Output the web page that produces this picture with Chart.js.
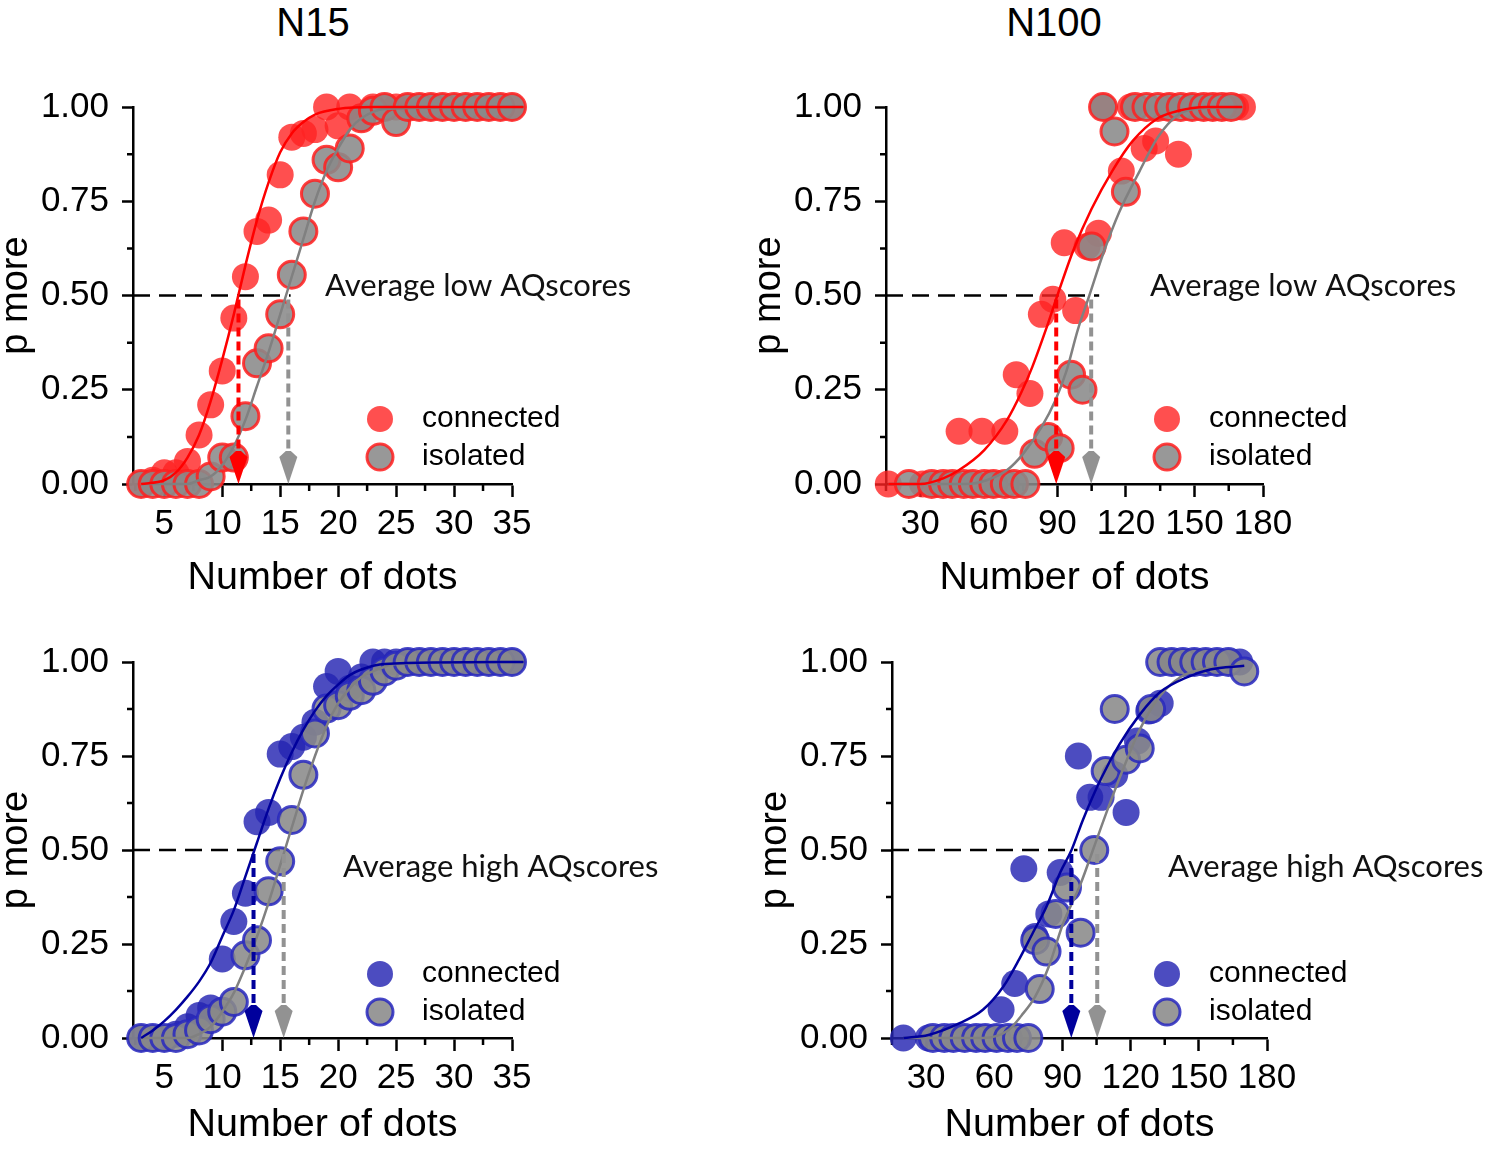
<!DOCTYPE html>
<html>
<head>
<meta charset="utf-8">
<title>p more by number of dots</title>
<script src="https://cdn.jsdelivr.net/npm/chart.js@4.4.1/dist/chart.umd.min.js"></script>
<style>
  html, body { margin: 0; padding: 0; background: #fff; overflow: hidden; }
  #figure { position: relative; width: 1487px; height: 1149px; }
  #figure canvas { position: absolute; }
  .panel-title {
    position: absolute;
    top: 0;
    line-height: 40px;
    font: 40px "Liberation Sans", Arial, sans-serif;
    color: #000;
    transform: translateX(-50%);
  }
</style>
</head>
<body>
<div id="figure">
  <div class="panel-title" style="left: 313px;">N15</div>
  <div class="panel-title" style="left: 1054px;">N100</div>
  <canvas id="low-n15" width="745" height="610" style="left: 0px; top: 0px;"></canvas>
  <canvas id="low-n100" width="734" height="610" style="left: 753px; top: 0px;"></canvas>
  <canvas id="high-n15" width="745" height="594" style="left: 0px; top: 555px;"></canvas>
  <canvas id="high-n100" width="728" height="594" style="left: 759px; top: 555px;"></canvas>
</div>
<script>
"use strict";

// ---- N15 stimulus levels (both N15 panels) ----
const n15Dots = [3, 4, 5, 6, 7, 8, 9, 10, 11, 12, 13, 14, 15, 16, 17, 18, 19, 20,
  21, 22, 23, 24, 25, 26, 27, 28, 29, 30, 31, 32, 33, 34, 35, 36];

// low AQ, N15
const lowN15Connected = [0, 0.01, 0.03, 0.03, 0.06, 0.13, 0.21, 0.30, 0.44, 0.55,
  0.67, 0.70, 0.82, 0.92, 0.93, 0.94, 1.00, 0.95, 1.00, 0.97,
  1, 1, 1, 1, 1, 1, 1, 1, 1, 1, 1, 1, 1, 1];
const lowN15Isolated = [0, 0, 0, 0, 0, 0, 0.02, 0.07, 0.07, 0.18, 0.32, 0.36, 0.45,
  0.555, 0.67, 0.77, 0.86, 0.84, 0.89, 0.97, 0.99, 1, 0.96,
  1, 1, 1, 1, 1, 1, 1, 1, 1, 1, 1];
const lowN15ConnectedFitX = [3, 5, 6, 7, 8, 9, 10, 11, 12, 13, 14, 15, 16, 17, 18, 20, 23, 36];
const lowN15ConnectedFitY = [0, 0.01, 0.03, 0.07, 0.13, 0.22, 0.33, 0.45, 0.58, 0.70,
  0.80, 0.88, 0.93, 0.96, 0.98, 0.995, 1, 1];
const lowN15IsolatedFitX = [3, 7, 8, 9, 10, 11, 12, 13, 14, 15, 16, 17, 18, 19, 20, 21, 22, 24, 36];
const lowN15IsolatedFitY = [0, 0, 0.01, 0.02, 0.05, 0.10, 0.17, 0.26, 0.35, 0.45, 0.55,
  0.65, 0.75, 0.83, 0.89, 0.94, 0.97, 0.995, 1];
const lowN15Thresholds = [11.4, 15.7];

// high AQ, N15
const highN15Connected = [0, 0, 0, 0.01, 0.03, 0.06, 0.08, 0.21, 0.31, 0.385, 0.575,
  0.60, 0.755, 0.775, 0.80, 0.84, 0.935, 0.975, 0.93, 0.96,
  1, 1, 1, 1, 1, 1, 1, 1, 1, 1, 1, 1, 1, 1];
const highN15Isolated = [0, 0, 0, 0, 0.01, 0.02, 0.05, 0.07, 0.096, 0.22, 0.26, 0.39,
  0.47, 0.58, 0.70, 0.81, 0.876, 0.885, 0.91, 0.925, 0.95, 0.975, 0.99,
  1, 1, 1, 1, 1, 1, 1, 1, 1, 1, 1];
const highN15ConnectedFitX = [3, 4, 5, 6, 7, 8, 9, 10, 11, 12, 13, 14, 15, 16, 17, 18,
  19, 20, 21, 22, 24, 36];
const highN15ConnectedFitY = [0, 0.02, 0.045, 0.075, 0.11, 0.15, 0.20, 0.27, 0.34, 0.43,
  0.52, 0.61, 0.69, 0.76, 0.82, 0.87, 0.91, 0.94, 0.965, 0.98, 0.995, 1];
const highN15IsolatedFitX = [3, 7, 8, 9, 10, 11, 12, 13, 14, 15, 16, 17, 18, 19, 20, 21,
  22, 23, 25, 36];
const highN15IsolatedFitY = [0, 0, 0.01, 0.03, 0.07, 0.12, 0.19, 0.27, 0.36, 0.46, 0.56,
  0.66, 0.75, 0.83, 0.89, 0.93, 0.96, 0.975, 0.995, 1];
const highN15Thresholds = [12.7, 15.3];

// low AQ, N100
const lowN100ConnectedX = [16, 31, 37, 42, 47, 52, 57, 62, 67, 72, 78, 83, 88, 93, 98,
  103, 108, 110, 118, 122, 128, 133, 138, 143, 148, 153, 158, 163, 168, 171];
const lowN100ConnectedY = [0, 0, 0, 0, 0.14, 0, 0.14, 0, 0.14, 0.29, 0.24, 0.45, 0.49,
  0.64, 0.46, 0.63, 0.665, 1, 0.83, 1, 0.89, 0.91, 1, 0.875, 1, 1, 1, 1, 1, 1];
const lowN100IsolatedX = [25, 35, 40, 44, 49, 53, 58, 62, 67, 71, 76, 80, 86, 91, 96,
  101, 105, 110, 115, 120, 124, 129, 134, 139, 144, 149, 154, 158, 162, 166];
const lowN100IsolatedY = [0, 0, 0, 0, 0, 0, 0, 0, 0, 0, 0, 0.08, 0.125, 0.095, 0.29,
  0.25, 0.63, 1, 0.935, 0.775, 1, 1, 1, 1, 1, 1, 1, 1, 1, 1];
const lowN100ConnectedFitX = [16, 30, 40, 47, 58, 68, 74, 79, 85, 90, 97, 105, 114, 123,
  134, 143, 155, 171];
const lowN100ConnectedFitY = [0, 0, 0.015, 0.037, 0.09, 0.17, 0.24, 0.31, 0.41, 0.50,
  0.62, 0.73, 0.83, 0.91, 0.97, 0.99, 1, 1];
const lowN100IsolatedFitX = [16, 50, 59, 68, 75, 83, 89, 94, 99, 104, 110, 117, 126, 134,
  143, 150, 171];
const lowN100IsolatedFitY = [0, 0, 0.01, 0.037, 0.08, 0.15, 0.22, 0.30, 0.41, 0.50, 0.61,
  0.72, 0.83, 0.92, 0.98, 0.995, 1];
const lowN100Thresholds = [89.5, 104.8];

// high AQ, N100
const highN100ConnectedX = [20, 31, 36, 41, 46, 51, 56, 60, 63, 69, 73, 78, 84, 89, 97,
  102, 107, 113, 118, 123, 128, 133, 138, 143, 148, 153, 158, 163, 168];
const highN100ConnectedY = [0, 0, 0, 0, 0, 0, 0, 0, 0.075, 0.145, 0.45, 0.27, 0.33, 0.44,
  0.75, 0.64, 0.64, 0.70, 0.60, 0.79, 0.87, 0.89, 1, 1, 1, 1, 1, 1, 1];
const highN100IsolatedX = [33, 38, 42, 47, 52, 56, 61, 66, 70, 75, 78, 80, 83, 87, 92,
  98, 104, 109, 113, 118, 124, 129, 133, 138, 143, 148, 153, 158, 163, 170];
const highN100IsolatedY = [0, 0, 0, 0, 0, 0, 0, 0, 0, 0, 0.26, 0.13, 0.23, 0.33, 0.40,
  0.28, 0.50, 0.71, 0.875, 0.74, 0.77, 0.875, 1, 1, 1, 1, 1, 1, 1, 0.975];
const highN100ConnectedFitX = [20, 31, 45, 55, 64, 71, 77, 83, 89, 94, 99, 107, 115, 124,
  133, 145, 155, 170];
const highN100ConnectedFitY = [0, 0.008, 0.04, 0.075, 0.137, 0.21, 0.28, 0.35, 0.44, 0.50,
  0.58, 0.69, 0.78, 0.86, 0.92, 0.96, 0.98, 0.99];
const highN100IsolatedFitX = [20, 55, 66, 72, 78, 84, 90, 98, 104, 110, 117, 124, 133, 142,
  151, 170];
const highN100IsolatedFitY = [0, 0, 0.02, 0.06, 0.11, 0.19, 0.30, 0.41, 0.51, 0.61, 0.72,
  0.82, 0.91, 0.96, 0.98, 0.99];
const highN100Thresholds = [93.9, 105.3];

const yTickValues = [0, 0.25, 0.5, 0.75, 1];

const sansFamily = "'Liberation Sans', Arial, sans-serif";
const noteFamily = "Lato, 'Open Sans', sans-serif";

const redLine = "#ff0000";
const redFill = "rgba(255, 35, 35, 0.8)";
const redEdge = "rgba(255, 30, 30, 0.85)";
const blueLine = "#00009c";
const blueFill = "rgba(36, 36, 178, 0.82)";
const blueEdge = "rgba(40, 40, 190, 0.85)";
const grayLine = "#808080";
const grayFill = "rgba(138, 138, 138, 0.88)";
const grayArrow = "#929292";

const toPoints = (xs, ys) => xs.map((x, i) => ({ x: x, y: ys[i] }));

function drawArrow(ctx, px, yTop, yTip, color) {
  ctx.save();
  ctx.strokeStyle = color;
  ctx.fillStyle = color;
  ctx.lineWidth = 4;
  ctx.setLineDash([9, 5]);
  ctx.beginPath();
  ctx.moveTo(px, yTop);
  ctx.lineTo(px, yTip - 28);
  ctx.stroke();
  ctx.setLineDash([]);
  ctx.beginPath();
  ctx.moveTo(px, yTip);
  ctx.lineTo(px - 9, yTip - 27);
  ctx.lineTo(px - 2.5, yTip - 33);
  ctx.lineTo(px + 2.5, yTip - 33);
  ctx.lineTo(px + 9, yTip - 27);
  ctx.closePath();
  ctx.fill();
  ctx.restore();
}

const markupPlugin = {
  id: "markup",
  beforeDatasetsDraw(chart, args, opts) {
    const { ctx, chartArea } = chart;
    const xScale = chart.scales.x;
    const yScale = chart.scales.y;
    ctx.save();
    // minor ticks
    ctx.strokeStyle = "#000";
    ctx.lineWidth = 2.5;
    ctx.beginPath();
    for (let i = 0; i < yTickValues.length - 1; i++) {
      const py = yScale.getPixelForValue((yTickValues[i] + yTickValues[i + 1]) / 2);
      ctx.moveTo(chartArea.left - 6, py);
      ctx.lineTo(chartArea.left, py);
    }
    const firstMinor = Math.ceil(xScale.min / opts.minorStep);
    const lastMinor = Math.floor(xScale.max / opts.minorStep);
    for (let k = firstMinor; k <= lastMinor; k++) {
      const v = k * opts.minorStep;
      if (Math.abs(v / opts.majorStep - Math.round(v / opts.majorStep)) < 1e-6) continue;
      const px = xScale.getPixelForValue(v);
      ctx.moveTo(px, chartArea.bottom);
      ctx.lineTo(px, chartArea.bottom + 7);
    }
    ctx.stroke();
    // p = 0.5 reference line
    const y50 = yScale.getPixelForValue(0.5);
    ctx.setLineDash([17, 9]);
    ctx.lineWidth = 2.5;
    ctx.beginPath();
    ctx.moveTo(chartArea.left, y50);
    ctx.lineTo(xScale.getPixelForValue(opts.halfLineEnd), y50);
    ctx.stroke();
    ctx.restore();
  },
  afterDatasetsDraw(chart, args, opts) {
    const { ctx, chartArea } = chart;
    const xScale = chart.scales.x;
    const yScale = chart.scales.y;
    const y50 = yScale.getPixelForValue(0.5);
    const y0 = yScale.getPixelForValue(0);
    drawArrow(ctx, xScale.getPixelForValue(opts.thresholds[0]), y50 + 4, y0, opts.arrowColor);
    drawArrow(ctx, xScale.getPixelForValue(opts.thresholds[1]), y50 + 4, y0, grayArrow);

    ctx.save();
    ctx.textBaseline = "middle";
    ctx.textAlign = "left";
    ctx.fillStyle = "#111";
    ctx.font = "31px " + noteFamily;
    ctx.fillText(opts.note, chartArea.left + opts.noteDx, chartArea.top + opts.noteDy);

    // legend
    const mx = chartArea.left + opts.legendDx;
    const rows = [
      { label: "connected", fill: opts.connFill, edge: null },
      { label: "isolated", fill: grayFill, edge: opts.edgeColor },
    ];
    rows.forEach((row, i) => {
      const my = chartArea.top + opts.legendDy + i * 38;
      ctx.beginPath();
      ctx.arc(mx, my, 13, 0, Math.PI * 2);
      ctx.fillStyle = row.fill;
      ctx.fill();
      if (row.edge) {
        ctx.lineWidth = 3;
        ctx.strokeStyle = row.edge;
        ctx.stroke();
      }
      ctx.fillStyle = "#000";
      ctx.font = "30px " + sansFamily;
      ctx.fillText(row.label, mx + 42, my);
    });
    ctx.restore();
  },
};

function buildPanel(canvasId, panel) {
  const canvas = document.getElementById(canvasId);
  return new Chart(canvas, {
    type: "scatter",
    data: {
      datasets: [
        {
          label: "connected fit",
          data: toPoints(panel.connFitX, panel.connFitY),
          showLine: true,
          pointRadius: 0,
          borderColor: panel.lineColor,
          borderWidth: 2.5,
          cubicInterpolationMode: "monotone",
          clip: false,
        },
        {
          label: "isolated fit",
          data: toPoints(panel.isoFitX, panel.isoFitY),
          showLine: true,
          pointRadius: 0,
          borderColor: grayLine,
          borderWidth: 2.5,
          cubicInterpolationMode: "monotone",
          clip: false,
        },
        {
          label: "isolated",
          data: toPoints(panel.isoX, panel.isoY),
          pointRadius: 13.5,
          pointHoverRadius: 13.5,
          backgroundColor: grayFill,
          borderColor: panel.edgeColor,
          borderWidth: 3,
          clip: false,
        },
        {
          label: "connected",
          data: toPoints(panel.connX, panel.connY),
          pointRadius: 13.5,
          pointHoverRadius: 13.5,
          backgroundColor: panel.connFill,
          borderWidth: 0,
          clip: false,
        },
      ],
    },
    options: {
      responsive: false,
      animation: false,
      events: [],
      layout: {
        padding: { left: 0, top: 107, right: panel.padRight, bottom: 0 },
      },
      plugins: {
        legend: { display: false },
        tooltip: { enabled: false },
        markup: {
          minorStep: panel.xStep / 2,
          majorStep: panel.xStep,
          halfLineEnd: panel.halfLineEnd,
          thresholds: panel.thresholds,
          arrowColor: panel.lineColor,
          connFill: panel.connFill,
          edgeColor: panel.edgeColor,
          note: panel.note,
          noteDx: panel.noteDx,
          noteDy: panel.noteDy,
          legendDx: panel.legendDx,
          legendDy: 312,
        },
      },
      scales: {
        x: {
          type: "linear",
          min: panel.xMin,
          max: panel.xMax,
          afterFit: (scale) => {
            scale.height = panel.xHeight;
          },
          border: { color: "#000", width: 2.5 },
          grid: {
            drawOnChartArea: false,
            tickLength: 13,
            tickWidth: 2.5,
            tickColor: "#000",
          },
          ticks: {
            stepSize: panel.xStep,
            includeBounds: false,
            autoSkip: false,
            maxRotation: 0,
            padding: 6,
            color: "#000",
            font: { family: sansFamily, size: 35 },
          },
          title: {
            display: true,
            text: "Number of dots",
            color: "#000",
            font: { family: sansFamily, size: 39.5 },
            padding: { top: 0, bottom: panel.titlePad },
          },
        },
        y: {
          min: 0,
          max: 1,
          afterFit: (scale) => {
            scale.width = 133;
          },
          border: { color: "#000", width: 2.5 },
          grid: {
            drawOnChartArea: false,
            tickLength: 11,
            tickWidth: 2.5,
            tickColor: "#000",
          },
          ticks: {
            stepSize: 0.25,
            padding: 13,
            color: "#000",
            font: { family: sansFamily, size: 35 },
            callback: (value) => value.toFixed(2),
          },
          title: {
            display: true,
            text: "p more",
            color: "#000",
            font: { family: sansFamily, size: 38, lineHeight: 0.85 },
            padding: 0,
          },
        },
      },
    },
    plugins: [markupPlugin],
  });
}

document.addEventListener("DOMContentLoaded", () => {
  buildPanel("low-n15", {
    connX: n15Dots, connY: lowN15Connected,
    isoX: n15Dots, isoY: lowN15Isolated,
    connFitX: lowN15ConnectedFitX, connFitY: lowN15ConnectedFitY,
    isoFitX: lowN15IsolatedFitX, isoFitY: lowN15IsolatedFitY,
    thresholds: lowN15Thresholds, halfLineEnd: 15.9,
    lineColor: redLine, connFill: redFill, edgeColor: redEdge,
    xMin: 2.3, xMax: 35, xStep: 5,
    padRight: 233, xHeight: 126, titlePad: 8,
    note: "Average low AQscores", noteDx: 192, noteDy: 179, legendDx: 247,
  });
  buildPanel("low-n100", {
    connX: lowN100ConnectedX, connY: lowN100ConnectedY,
    isoX: lowN100IsolatedX, isoY: lowN100IsolatedY,
    connFitX: lowN100ConnectedFitX, connFitY: lowN100ConnectedFitY,
    isoFitX: lowN100IsolatedFitX, isoFitY: lowN100IsolatedFitY,
    thresholds: lowN100Thresholds, halfLineEnd: 108.3,
    lineColor: redLine, connFill: redFill, edgeColor: redEdge,
    xMin: 15, xMax: 180, xStep: 30,
    padRight: 224, xHeight: 126, titlePad: 8,
    note: "Average low AQscores", noteDx: 264, noteDy: 179, legendDx: 281,
  });
  buildPanel("high-n15", {
    connX: n15Dots, connY: highN15Connected,
    isoX: n15Dots, isoY: highN15Isolated,
    connFitX: highN15ConnectedFitX, connFitY: highN15ConnectedFitY,
    isoFitX: highN15IsolatedFitX, isoFitY: highN15IsolatedFitY,
    thresholds: highN15Thresholds, halfLineEnd: 15.2,
    lineColor: blueLine, connFill: blueFill, edgeColor: blueEdge,
    xMin: 2.3, xMax: 35, xStep: 5,
    padRight: 233, xHeight: 111, titlePad: 0,
    note: "Average high AQscores", noteDx: 210, noteDy: 205, legendDx: 247,
  });
  buildPanel("high-n100", {
    connX: highN100ConnectedX, connY: highN100ConnectedY,
    isoX: highN100IsolatedX, isoY: highN100IsolatedY,
    connFitX: highN100ConnectedFitX, connFitY: highN100ConnectedFitY,
    isoFitX: highN100IsolatedFitX, isoFitY: highN100IsolatedFitY,
    thresholds: highN100Thresholds, halfLineEnd: 96.6,
    lineColor: blueLine, connFill: blueFill, edgeColor: blueEdge,
    xMin: 15, xMax: 180, xStep: 30,
    padRight: 220, xHeight: 111, titlePad: 0,
    note: "Average high AQscores", noteDx: 276, noteDy: 205, legendDx: 275,
  });
});
</script>
</body>
</html>
